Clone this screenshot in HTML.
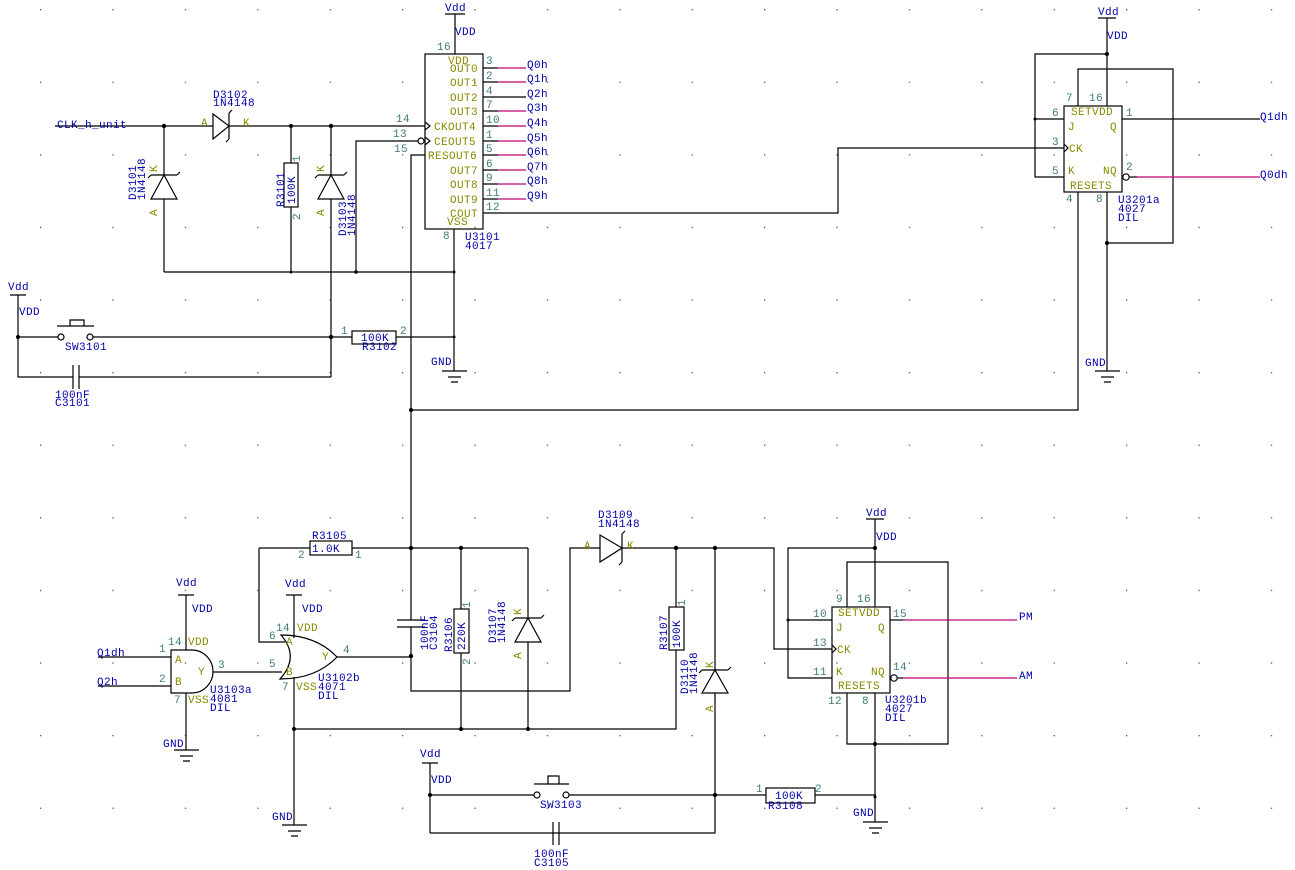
<!DOCTYPE html>
<html><head><meta charset="utf-8"><style>
html,body{margin:0;padding:0;background:#fff}
svg{display:block}
text{font-family:"Liberation Mono",monospace;font-size:11px;letter-spacing:0.4px;font-weight:500}
.b{fill:#0000a8}.o{fill:#8a8a00}.n{fill:#3d7a7a}
.w{stroke:#000;stroke-width:1.2;fill:none}
.m{stroke:#c00070;stroke-width:1.2;fill:none}
</style></head><body>
<svg width="1295" height="870" viewBox="0 0 1295 870" xmlns="http://www.w3.org/2000/svg">
<defs><pattern id="g" x="40" y="9" width="72.4" height="72.6" patternUnits="userSpaceOnUse"><rect x="0" y="0" width="1.3" height="1.3" fill="#555"/></pattern></defs>
<rect width="1295" height="870" fill="url(#g)"/>

<g class="w">
<path d="M55 126H213M229 126H425"/>
<path d="M213 114V139L229 126Z M229 113V139 M229 113l3 -3 M229 139l-3 3"/>
<path d="M164 126V175M164 199V272"/>
<path d="M151 199H177L164 175Z M151 175H177 M151 175l-3 3 M177 175l3 -3"/>
<path d="M291 126V163M291 207V272"/>
<rect x="284" y="163" width="14" height="44" fill="#fff"/>
<path d="M331 126V175M331 199V377"/>
<path d="M318 199H344L331 175Z M318 175H344 M318 175l-3 3 M344 175l3 -3"/>
<path d="M356 272V141H418"/>
<circle cx="421" cy="141" r="3"/>
<path d="M425 122l5 4l-5 4 M425 137l5 4l-5 4"/>
<path d="M164 272H454"/>
<rect x="425" y="54" width="58" height="175"/>
<path d="M445 14H465M455 14V54M454 229V371"/>
<path d="M442 371H467M448 377H461M451 382H458"/>
<path d="M425 155H411V548"/>
<path d="M483 68H498M483 82H498M483 97H526M483 111H498M483 126H498M483 141H498M483 155H498M483 170H498M483 184H498M483 199H498M483 213H838V148H1064"/>
<path d="M10 295H26M18 295V377H73M79 377H331"/>
<path d="M73 365V389M79 365V389"/>
<path d="M18 337H58M93 337H352M396 337H454"/>
<circle cx="61" cy="337" r="3" fill="#fff"/><circle cx="90" cy="337" r="3" fill="#fff"/>
<path d="M57 326H94M70 326V320H84V326"/>
<rect x="352" y="331" width="44" height="13" fill="#fff"/>
<path d="M411 410H1078V192"/>
</g>
<g class="m"><path d="M498 68H526M498 82H526M498 111H526M498 126H526M498 141H526M498 155H526M498 170H526M498 184H526M498 199H526"/></g>
<g fill="#000"><circle cx="164" cy="126" r="2.2"/><circle cx="291" cy="126" r="2"/><circle cx="331" cy="126" r="2.2"/><circle cx="291" cy="272" r="1.5"/><circle cx="356" cy="272" r="1.8"/><circle cx="454" cy="272" r="1.5"/><circle cx="18" cy="337" r="2"/><circle cx="331" cy="337" r="2.2"/><circle cx="454" cy="337" r="1.5"/><circle cx="411" cy="410" r="2"/></g>

<text class="b" x="57" y="128">CLK_h_unit</text>
<text class="b" x="213" y="98">D3102</text><text class="b" x="213" y="106">1N4148</text>
<text class="o" x="201" y="126">A</text><text class="o" x="243" y="126">K</text>
<text class="b" transform="translate(136,200) rotate(-90)">D3101</text><text class="b" transform="translate(145,200) rotate(-90)">1N4148</text>
<text class="o" transform="translate(157,172) rotate(-90)">K</text><text class="o" transform="translate(157,216) rotate(-90)">A</text>
<text class="b" transform="translate(284,207) rotate(-90)">R3101</text><text class="b" transform="translate(295,204) rotate(-90)">100K</text>
<text class="n" transform="translate(300,162) rotate(-90)">1</text><text class="n" transform="translate(300,220) rotate(-90)">2</text>
<text class="o" transform="translate(324,172) rotate(-90)">K</text><text class="o" transform="translate(324,216) rotate(-90)">A</text>
<text class="b" transform="translate(346,236) rotate(-90)">D3103</text><text class="b" transform="translate(355,236) rotate(-90)">1N4148</text>
<text class="n" x="396" y="122">14</text><text class="n" x="393" y="137">13</text><text class="n" x="394" y="152">15</text>
<text class="b" x="445" y="11">Vdd</text><text class="b" x="455" y="35">VDD</text><text class="n" x="437" y="50">16</text>
<text class="o" x="448" y="64">VDD</text>
<text class="o" x="450" y="72">OUT0</text><text class="o" x="450" y="86">OUT1</text><text class="o" x="450" y="101">OUT2</text><text class="o" x="450" y="115">OUT3</text>
<text class="o" x="434" y="130">CKOUT4</text><text class="o" x="434" y="145">CEOUT5</text><text class="o" x="428" y="159">RESOUT6</text>
<text class="o" x="450" y="174">OUT7</text><text class="o" x="450" y="188">OUT8</text><text class="o" x="450" y="203">OUT9</text>
<text class="o" x="450" y="217">COUT</text><text class="o" x="447" y="225">VSS</text>
<text class="n" x="443" y="239">8</text><text class="b" x="465" y="240">U3101</text><text class="b" x="465" y="249">4017</text>
<text class="n" x="486" y="64">3</text><text class="n" x="486" y="79">2</text><text class="n" x="486" y="94">4</text><text class="n" x="486" y="108">7</text><text class="n" x="486" y="123">10</text><text class="n" x="486" y="138">1</text><text class="n" x="486" y="152">5</text><text class="n" x="486" y="167">6</text><text class="n" x="486" y="181">9</text><text class="n" x="486" y="196">11</text><text class="n" x="486" y="210">12</text>
<text class="b" x="527" y="68">Q0h</text><text class="b" x="527" y="82">Q1h</text><text class="b" x="527" y="97">Q2h</text><text class="b" x="527" y="111">Q3h</text><text class="b" x="527" y="126">Q4h</text><text class="b" x="527" y="141">Q5h</text><text class="b" x="527" y="155">Q6h</text><text class="b" x="527" y="170">Q7h</text><text class="b" x="527" y="184">Q8h</text><text class="b" x="527" y="199">Q9h</text>
<text class="b" x="8" y="290">Vdd</text><text class="b" x="19" y="315">VDD</text>
<text class="b" x="65" y="350">SW3101</text>
<text class="b" x="55" y="398">100nF</text><text class="b" x="55" y="406">C3101</text>
<text class="n" x="341" y="334">1</text><text class="n" x="400" y="334">2</text>
<text class="b" x="361" y="341">100K</text><text class="b" x="362" y="350">R3102</text>
<text class="b" x="431" y="365">GND</text>

<g class="w">
<rect x="1064" y="106" width="58" height="86"/>
<path d="M1098 18H1116M1107 18V106M1107 192V371"/>
<path d="M1095 371H1120M1101 377H1114M1104 382H1111"/>
<path d="M1107 54H1035V177H1064M1035 119H1064"/>
<path d="M1078 106V69H1173V243H1107"/>
<path d="M1064 144l4 4l-4 4"/>
<path d="M1122 119H1260"/>
<circle cx="1126" cy="177" r="3.2" fill="#fff"/>
</g>
<path class="m" d="M1137 177H1260"/><path class="w" d="M1129 177H1137"/>
<g fill="#000"><circle cx="1107" cy="54" r="2"/><circle cx="1107" cy="243" r="2"/><circle cx="1035" cy="119" r="1.5"/></g>
<text class="b" x="1098" y="15">Vdd</text><text class="b" x="1107" y="39">VDD</text>
<text class="n" x="1066" y="101">7</text><text class="n" x="1089" y="101">16</text><text class="n" x="1052" y="116">6</text><text class="n" x="1126" y="116">1</text>
<text class="n" x="1052" y="145">3</text><text class="n" x="1052" y="174">5</text><text class="n" x="1126" y="170">2</text>
<text class="n" x="1066" y="202">4</text><text class="n" x="1096" y="202">8</text>
<text class="o" x="1071" y="115">SETVDD</text><text class="o" x="1068" y="130">J</text><text class="o" x="1110" y="130">Q</text>
<text class="o" x="1069" y="152">CK</text><text class="o" x="1068" y="174">K</text><text class="o" x="1103" y="174">NQ</text>
<text class="o" x="1070" y="189">RESETS</text>
<text class="b" x="1118" y="203">U3201a</text><text class="b" x="1118" y="212">4027</text><text class="b" x="1118" y="221">DIL</text>
<text class="b" x="1260" y="120">Q1dh</text><text class="b" x="1260" y="178">Q0dh</text>
<text class="b" x="1085" y="366">GND</text>

<g class="w">
<path d="M171 650H192A21 21.5 0 0 1 192 693H171Z"/>
<path d="M98 657H171M98 686H171M213 672H282"/>
<path d="M178 595H194M186 595V650M186 693V750"/>
<path d="M174 750H199M180 756H193M183 761H190"/>
<path d="M281 635Q300 657 280 679Q316 679 337 657Q316 635 281 635Z"/>
<path d="M286 595H302M294 595V638M294 677V825"/>
<path d="M282 825H307M288 831H301M291 836H298"/>
<path d="M259 548H310M352 548H528M259 548V642H285"/>
<rect x="310" y="541" width="42" height="14" fill="#fff"/>
<path d="M337 657H411"/>
<path d="M411 548V620M411 627V691H570V548H600M397 620H425M397 627H425"/>
<path d="M461 548V609M461 653V729"/>
<rect x="454" y="609" width="15" height="44" fill="#fff"/>
<path d="M528 548V618M528 642V729"/>
<path d="M515 642H541L528 618Z M515 618H541 M515 618l-3 3 M541 618l3 -3"/>
<path d="M294 729H676V650"/>
<path d="M600 535V562L622 548Z M622 534V562 M622 534l3 -3 M622 562l-3 3"/>
<path d="M622 548H774V649H832"/>
<path d="M676 548V607"/>
<rect x="669" y="607" width="15" height="43" fill="#fff"/>
<path d="M715 548V670M715 693V833H430"/>
<path d="M702 693H728L715 670Z M702 670H728 M702 670l-3 3 M728 670l3 -3"/>
<path d="M422 763H438M430 763V833"/>
<path d="M430 795H534M569 795H715M715 795H766M815 795H876"/>
<circle cx="537" cy="795" r="3" fill="#fff"/><circle cx="566" cy="795" r="3" fill="#fff"/>
<path d="M534 784H569M548 784V776H559V784"/>
<path d="M553 822V845M559 822V845"/>
<rect x="766" y="788" width="49" height="15" fill="#fff"/>
<rect x="832" y="607" width="58" height="86"/>
<path d="M866 519H884M875 519V607M875 693V822"/>
<path d="M863 822H888M869 828H882M872 833H879"/>
<path d="M875 548H788V678H832M788 620H832"/>
<path d="M847 607V562H948V744H847V693"/>
<path d="M832 645l4 4l-4 4"/>
<path d="M890 620H903"/>
<circle cx="894" cy="678" r="3.2" fill="#fff"/>
<path d="M897 678H903"/>
</g>
<g class="m"><path d="M903 620H1017M903 678H1017"/></g>
<g fill="#000"><circle cx="411" cy="548" r="2.2"/><circle cx="461" cy="548" r="2.2"/><circle cx="411" cy="656" r="2.2"/><circle cx="294" cy="729" r="2"/><circle cx="461" cy="729" r="2"/><circle cx="528" cy="729" r="2"/><circle cx="676" cy="548" r="2.2"/><circle cx="715" cy="548" r="2.2"/><circle cx="430" cy="795" r="2"/><circle cx="715" cy="795" r="2.2"/><circle cx="875" cy="548" r="2"/><circle cx="875" cy="744" r="2"/><circle cx="875" cy="797" r="1.5"/><circle cx="788" cy="620" r="1.5"/></g>

<text class="b" x="97" y="656">Q1dh</text><text class="b" x="97" y="685">Q2h</text>
<text class="n" x="159" y="652">1</text><text class="n" x="159" y="682">2</text><text class="n" x="168" y="645">14</text><text class="o" x="188" y="645">VDD</text>
<text class="o" x="175" y="663">A</text><text class="o" x="198" y="675">Y</text><text class="o" x="175" y="685">B</text>
<text class="n" x="218" y="668">3</text><text class="n" x="174" y="703">7</text><text class="o" x="188" y="703">VSS</text>
<text class="b" x="176" y="586">Vdd</text><text class="b" x="192" y="612">VDD</text>
<text class="b" x="210" y="693">U3103a</text><text class="b" x="210" y="702">4081</text><text class="b" x="210" y="711">DIL</text>
<text class="b" x="163" y="747">GND</text>
<text class="b" x="285" y="587">Vdd</text><text class="b" x="302" y="612">VDD</text>
<text class="n" x="276" y="631">14</text><text class="o" x="297" y="631">VDD</text>
<text class="n" x="269" y="639">6</text><text class="o" x="286" y="645">A</text><text class="o" x="286" y="675">B</text>
<text class="n" x="269" y="667">5</text><text class="o" x="322" y="660">Y</text><text class="n" x="343" y="653">4</text>
<text class="n" x="282" y="690">7</text><text class="o" x="296" y="690">VSS</text>
<text class="b" x="318" y="681">U3102b</text><text class="b" x="318" y="690">4071</text><text class="b" x="318" y="699">DIL</text>
<text class="b" x="272" y="820">GND</text>
<text class="b" x="312" y="539">R3105</text><text class="b" x="312" y="552">1.0K</text>
<text class="n" x="298" y="558">2</text><text class="n" x="355" y="558">1</text>
<text class="b" transform="translate(428,650) rotate(-90)">100nF</text><text class="b" transform="translate(437,650) rotate(-90)">C3104</text>
<text class="b" transform="translate(452,652) rotate(-90)">R3106</text><text class="b" transform="translate(465,650) rotate(-90)">220K</text>
<text class="n" transform="translate(470,608) rotate(-90)">1</text><text class="n" transform="translate(470,665) rotate(-90)">2</text>
<text class="b" transform="translate(496,643) rotate(-90)">D3107</text><text class="b" transform="translate(505,643) rotate(-90)">1N4148</text>
<text class="o" transform="translate(521,615) rotate(-90)">K</text><text class="o" transform="translate(521,659) rotate(-90)">A</text>
<text class="b" x="598" y="518">D3109</text><text class="b" x="598" y="527">1N4148</text>
<text class="o" x="584" y="549">A</text><text class="o" x="627" y="549">K</text>
<text class="b" transform="translate(667,650) rotate(-90)">R3107</text><text class="b" transform="translate(680,648) rotate(-90)">100K</text>
<text class="n" transform="translate(685,606) rotate(-90)">1</text>
<text class="b" transform="translate(688,694) rotate(-90)">D3110</text><text class="b" transform="translate(697,694) rotate(-90)">1N4148</text>
<text class="o" transform="translate(713,668) rotate(-90)">K</text><text class="o" transform="translate(713,712) rotate(-90)">A</text>
<text class="b" x="420" y="757">Vdd</text><text class="b" x="431" y="783">VDD</text>
<text class="b" x="540" y="808">SW3103</text>
<text class="b" x="534" y="857">100nF</text><text class="b" x="534" y="866">C3105</text>
<text class="n" x="756" y="792">1</text><text class="n" x="815" y="792">2</text>
<text class="b" x="775" y="799">100K</text><text class="b" x="768" y="809">R3108</text>
<text class="b" x="866" y="516">Vdd</text><text class="b" x="876" y="540">VDD</text>
<text class="n" x="836" y="602">9</text><text class="n" x="857" y="602">16</text><text class="n" x="813" y="617">10</text><text class="n" x="893" y="617">15</text>
<text class="n" x="813" y="646">13</text><text class="n" x="813" y="675">11</text><text class="n" x="893" y="670">14</text>
<text class="n" x="828" y="704">12</text><text class="n" x="862" y="704">8</text>
<text class="o" x="838" y="616">SETVDD</text><text class="o" x="836" y="631">J</text><text class="o" x="878" y="631">Q</text>
<text class="o" x="837" y="653">CK</text><text class="o" x="836" y="675">K</text><text class="o" x="871" y="675">NQ</text>
<text class="o" x="838" y="689">RESETS</text>
<text class="b" x="885" y="703">U3201b</text><text class="b" x="885" y="712">4027</text><text class="b" x="885" y="721">DIL</text>
<text class="b" x="1019" y="620">PM</text><text class="b" x="1019" y="679">AM</text>
<text class="b" x="853" y="816">GND</text>
</svg>
</body></html>
